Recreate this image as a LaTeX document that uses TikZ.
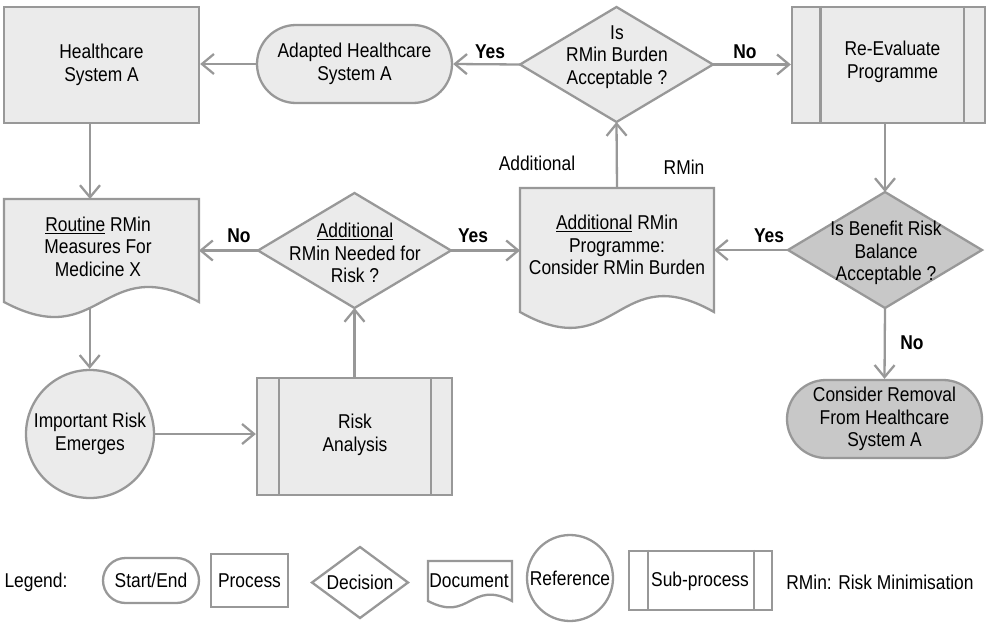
\documentclass[tikz,border=0pt]{standalone}
\usepackage{fontspec}
\setmainfont{Liberation Sans}[FakeStretch=0.87]
\usetikzlibrary{arrows.meta,calc}

\definecolor{bd}{RGB}{152,152,152}
\definecolor{lt}{RGB}{235,235,235}
\definecolor{dk}{RGB}{200,200,200}

\tikzset{
  shp/.style={draw=bd, line width=2.3pt},
  anchorbox/.style={rectangle, draw=none, inner sep=0pt, outer sep=0pt},
  procbox/.style={rectangle, shp, inner sep=0pt, align=center},
  termbox/.style={rectangle, shp, inner sep=0pt, align=center},
  refcirc/.style={circle, shp, inner sep=0pt, align=center},
  txt/.style={inner sep=0pt, align=center},
  lbl/.style={inner sep=0pt, font=\fontsize{20}{22.5}\selectfont\bfseries},
  arr/.style={draw=bd, line width=2.3pt, -{Straight Barb[length=12pt,width=20pt]}},
}

% outline of a decision diamond on the anchors of a plain box node
\newcommand\decisionoutline[2]{%
  \filldraw[shp, fill=#2] (#1.north) -- (#1.east) -- (#1.south) -- (#1.west) -- cycle;}
% outline of a document sheet with a wavy lower edge
\newcommand\documentoutline[3]{%
  \filldraw[shp, fill=#2] (#1.south west) -- (#1.north west) -- (#1.north east) -- (#1.south east)
    .. controls ($(#1.south east)!0.5!(#1.south west)+(0,-#3)$)
       and ($(#1.south east)!0.5!(#1.south west)+(0,#3)$) .. (#1.south west)
    coordinate[pos=0.58] (#1-w) -- cycle;}
% the two side bars of a sub-process box
\newcommand\subprocessbars[3]{%
  \draw[shp] ($(#1.north west)+(#2,0)$) -- ($(#1.south west)+(#2,0)$);
  \draw[shp] ($(#1.north east)+(-#3,0)$) -- ($(#1.south east)+(-#3,0)$);}

\begin{document}
\begin{tikzpicture}[x=1pt, y=-1pt, font=\fontsize{20}{22.5}\selectfont]
\useasboundingbox (0,0) rectangle (988,624);

% ---- top row ----
\node[procbox, fill=lt, minimum width=195pt, minimum height=116pt] (hsa) at (101.5,65)
  {Healthcare\\System A};
\node[termbox, fill=lt, minimum width=195pt, minimum height=78pt, rounded corners=39pt] (adp)
  at (354.5,64) {Adapted Healthcare\\System A};
\node[anchorbox, minimum width=193pt, minimum height=115pt] (dq1) at (616.5,64.5) {};
\decisionoutline{dq1}{lt}
\node[txt] (dq1t) at (617,57) {Is\\RMin Burden\\Acceptable ?};
\node[procbox, fill=lt, minimum width=193pt, minimum height=116pt] (rev) at (888.5,65) {};
\subprocessbars{rev}{29.5}{22}
\node[txt] (revt) at (892.5,62) {Re-Evaluate\\Programme};

% ---- middle row ----
\node[anchorbox, minimum width=195pt, minimum height=103pt] (rdoc) at (101.5,250.5) {};
\documentoutline{rdoc}{lt}{52}
\node[txt] (rdoct) at (98,246.5) {\underline{Routine} RMin\\Measures For\\Medicine X};
\node[anchorbox, minimum width=193pt, minimum height=115pt] (dq2) at (354.5,250.5) {};
\decisionoutline{dq2}{lt}
\node[txt] (dq2t) at (355,253) {\underline{Additional}\\RMin Needed for\\Risk ?};
\node[anchorbox, minimum width=194pt, minimum height=124pt] (adoc) at (617,250) {};
\documentoutline{adoc}{lt}{55}
\node[txt] (adoct) at (617,245) {\underline{Additional} RMin\\Programme:\\Consider RMin Burden};
\node[anchorbox, minimum width=194pt, minimum height=116pt] (bq) at (885,250) {};
\decisionoutline{bq}{dk}
\node[txt] (bqt) at (886,253) {Is Benefit Risk\\Balance\\Acceptable ?};

% ---- bottom row ----
\node[refcirc, fill=lt, minimum size=128pt] (irk) at (90,434) {Important Risk\\Emerges};
\node[procbox, fill=lt, minimum width=195pt, minimum height=117pt] (ra) at (354.5,436.5) {};
\subprocessbars{ra}{23}{22}
\node[txt] (rat) at (355,435) {Risk\\Analysis};
\node[termbox, fill=dk, minimum width=195pt, minimum height=78pt, rounded corners=39pt] (crm)
  at (884.5,419) {Consider Removal\\From Healthcare\\System A};

% ---- connectors ----
\draw[arr] (adp.west) -- (hsa.east |- adp.west);
\draw[arr] (dq1.west) -- (adp.east);
\node[lbl] (yes1) at (490,52) {Yes};
\draw[arr] (dq1.east) -- (rev.west |- dq1.east);
\node[lbl] (no1) at (745,52) {No};
\draw[arr] (bq.north |- rev.south) -- (bq.north);
\draw[arr] (bq.south) -- (crm.north);
\node[lbl] (no2) at (912,343) {No};
\draw[arr] (bq.west) -- (adoc.east);
\node[lbl] (yes2) at (769,236) {Yes};
\draw[arr] (adoc.north) -- (dq1.south);
\node[txt] (addl) at (537,163) {Additional};
\node[txt] (rmin) at (684,167) {RMin};
\draw[arr] (dq2.east) -- (adoc.west |- dq2.east);
\node[lbl] (yes3) at (473,236) {Yes};
\draw[arr] (dq2.west) -- (rdoc.east |- dq2.west);
\node[lbl] (no3) at (239,236) {No};
\draw[arr] (irk.north |- hsa.south) -- (irk.north |- rdoc.north);
\draw[arr] (rdoc-w) -- (rdoc-w |- irk.north);
\draw[arr] (irk.east) -- (irk.east -| ra.west);
\draw[arr] (ra.north) -- (dq2.south);

% ---- legend ----
\node[txt] (lg) at (36,582) {Legend:};
\node[termbox, fill=white, minimum width=96pt, minimum height=45pt, rounded corners=22.5pt] (lse)
  at (151,580.5) {Start/End};
\node[procbox, fill=white, minimum width=77pt, minimum height=53pt] (lpr) at (249.5,580.5) {Process};
\node[anchorbox, minimum width=96pt, minimum height=71pt] (ldc) at (360,582.5) {};
\decisionoutline{ldc}{white}
\node[txt] (ldct) at (360,582) {Decision};
\node[anchorbox, minimum width=84pt, minimum height=40pt] (ldo) at (470,581) {};
\documentoutline{ldo}{white}{22}
\node[txt] (ldot) at (469,581) {Document};
\node[refcirc, fill=white, minimum size=86pt] (lrf) at (570,578) {Reference};
\node[procbox, fill=white, minimum width=143pt, minimum height=59pt] (lsp) at (700.5,580.5) {};
\subprocessbars{lsp}{20}{19}
\node[txt] (lspt) at (700,581) {Sub-process};
\node[txt] (lrm) at (880,582) {RMin: Risk Minimisation};
\end{tikzpicture}
\end{document}
